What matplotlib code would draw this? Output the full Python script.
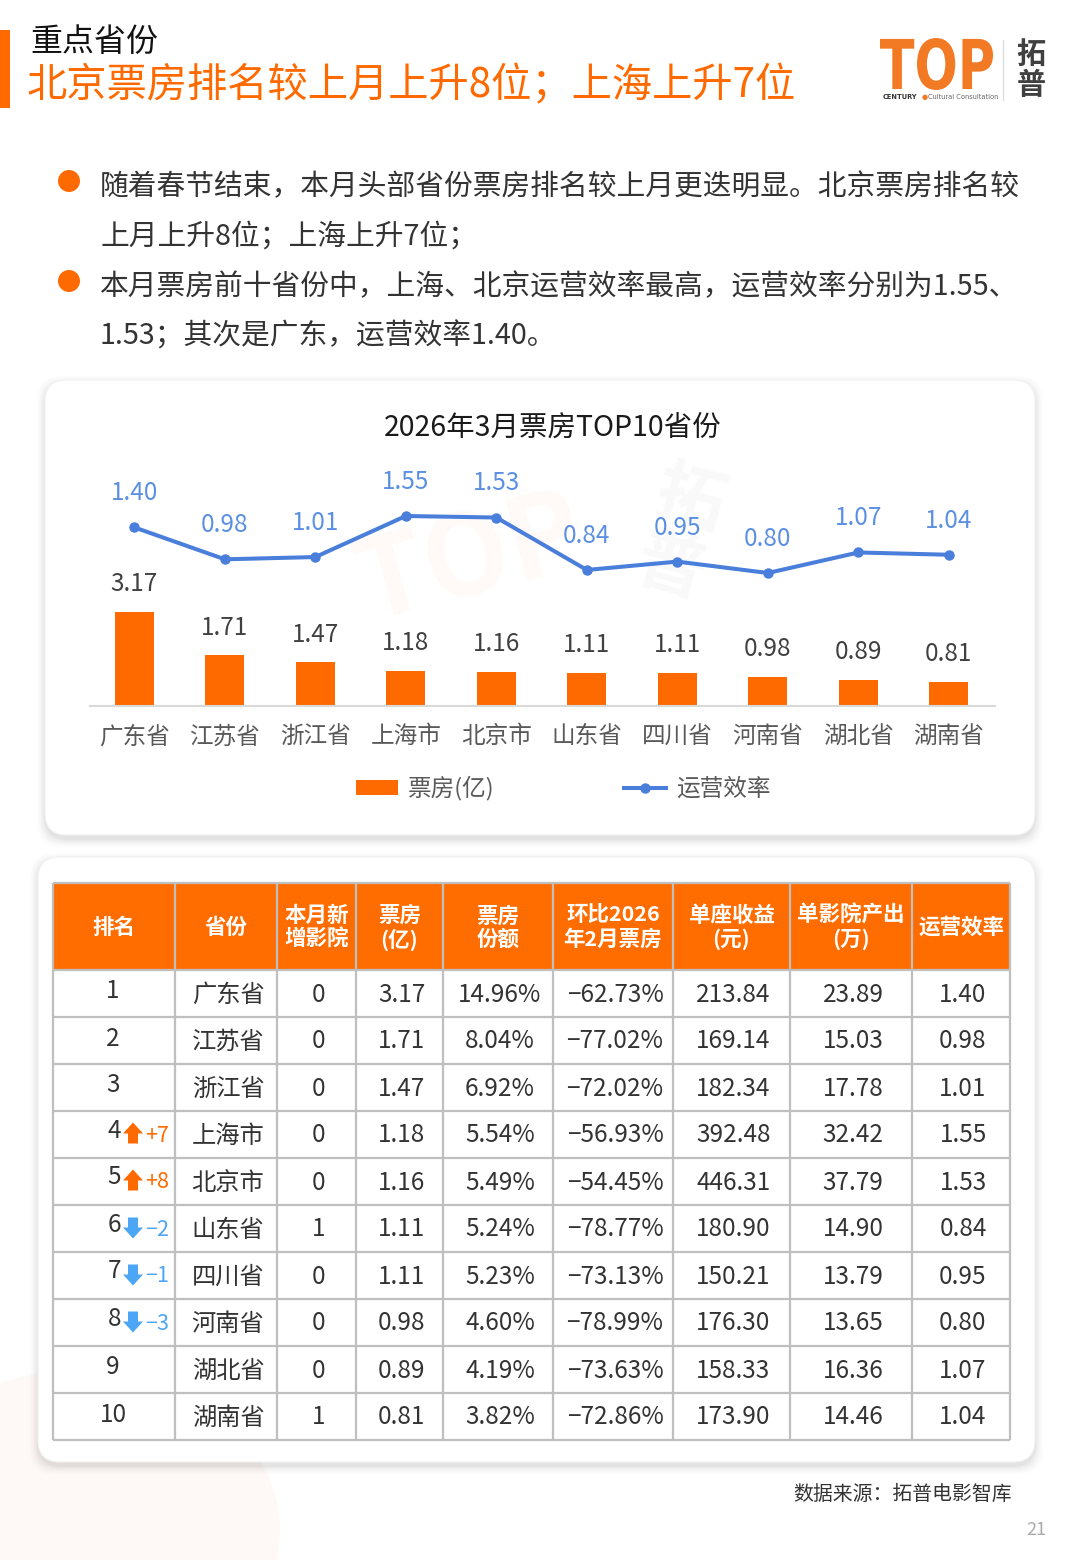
import matplotlib
matplotlib.use('Agg')
import matplotlib.pyplot as plt
from matplotlib.patches import FancyBboxPatch, Rectangle, Circle, Polygon, PathPatch, Ellipse
from matplotlib.textpath import TextPath
from matplotlib.font_manager import FontProperties
from matplotlib.transforms import Affine2D
from matplotlib.lines import Line2D

plt.rcParams['font.family'] = ['Noto Sans CJK SC', 'DejaVu Sans']

ORANGE = '#FF6A00'
BLUE = '#4A7EDB'
LBLUE = '#5B8FE2'
ARROW_BLUE = '#4DA6F5'
GRID = '#BFBFBF'
TXT = '#333333'

# ---- data ----
provinces = ['广东省', '江苏省', '浙江省', '上海市', '北京市', '山东省', '四川省', '河南省', '湖北省', '湖南省']
box_office = [3.17, 1.71, 1.47, 1.18, 1.16, 1.11, 1.11, 0.98, 0.89, 0.81]   # 亿
efficiency = [1.40, 0.98, 1.01, 1.55, 1.53, 0.84, 0.95, 0.80, 1.07, 1.04]
rank_change = [0, 0, 0, 7, 8, -2, -1, -3, 0, 0]
new_cinemas = [0, 0, 0, 0, 0, 1, 0, 0, 0, 1]
share = [14.96, 8.04, 6.92, 5.54, 5.49, 5.24, 5.23, 4.60, 4.19, 3.82]
mom = [-62.73, -77.02, -72.02, -56.93, -54.45, -78.77, -73.13, -78.99, -73.63, -72.86]
seat_revenue = [213.84, 169.14, 182.34, 392.48, 446.31, 180.90, 150.21, 176.30, 158.33, 173.90]
cinema_output = [23.89, 15.03, 17.78, 32.42, 37.79, 14.90, 13.79, 13.65, 16.36, 14.46]
headers = ['排名', '省份', '本月新\n增影院', '票房\n(亿)', '票房\n份额', '环比2026\n年2月票房',
           '单座收益\n(元)', '单影院产出\n(万)', '运营效率']
bullets = [
    ['随着春节结束，本月头部省份票房排名较上月更迭明显。北京票房排名较', '上月上升8位；上海上升7位；'],
    ['本月票房前十省份中，上海、北京运营效率最高，运营效率分别为1.55、', '1.53；其次是广东，运营效率1.40。'],
]

fig = plt.figure(figsize=(10.8, 15.6), dpi=100)
fig.patch.set_facecolor('white')

# page background, coordinates in pixels (y down)
bg = fig.add_axes([0, 0, 1, 1])
bg.set_xlim(0, 1080)
bg.set_ylim(1560, 0)
bg.axis('off')

# faint warm blob bottom left
bg.add_patch(Ellipse((80, 1530), 400, 320, fc='#FEF9F6', ec='none', zorder=0))

# header
bg.add_patch(Rectangle((0, 30), 10, 78, fc=ORANGE, ec='none'))
bg.text(30, 42, '重点省份', fontsize=23, color='#111111', va='center')
bg.text(27, 86, '北京票房排名较上月上升8位；上海上升7位', fontsize=29, color=ORANGE, va='center')

# logo
fp = FontProperties(family='DejaVu Sans', weight='bold')
tp = TextPath((0, 0), 'TOP', size=1, prop=fp)
ext = tp.get_extents()
tr = Affine2D().translate(-ext.x0, -ext.y0).scale(113 / ext.width, -52 / ext.height).translate(880, 90)
bg.add_patch(PathPatch(tr.transform_path(tp), fc='#F27A25', ec='none'))
bg.text(883, 97, 'CENTURY', fontsize=4.8, color='#333333', fontweight='bold', va='center', family='DejaVu Sans')
bg.text(922, 97, '●', fontsize=5, color='#F27A25', va='center', family='DejaVu Sans')
bg.text(928, 97, 'Cultural Consultation', fontsize=4.8, color='#666666', va='center', family='DejaVu Sans')
bg.plot([1003, 1003], [40, 100], color='#dddddd', lw=1)
bg.text(1031, 54, '拓', fontsize=21, color='#404040', fontweight='bold', ha='center', va='center')
bg.text(1031, 85, '普', fontsize=21, color='#404040', fontweight='bold', ha='center', va='center')

# bullet text
for k, lines in enumerate(bullets):
    y0 = 187 + k * 100
    bg.add_patch(Circle((69, y0 - 6), 11, fc=ORANGE, ec='none'))
    for j, line in enumerate(lines):
        bg.text(100, y0 + j * 50, line, fontsize=20.7, color=TXT, va='center')


def card(x, y, w, h):
    for i, a in enumerate([0.03, 0.025, 0.02, 0.015, 0.01, 0.007]):
        g = i * 3 + 2
        bg.add_patch(FancyBboxPatch((x - g / 2, y - g / 2 + 4), w + g, h + g,
                                    boxstyle='round,pad=0,rounding_size=24',
                                    fc='#000000', ec='none', alpha=a, zorder=1))
    bg.add_patch(FancyBboxPatch((x, y), w, h, boxstyle='round,pad=0,rounding_size=22',
                                fc='white', ec='#f2f2f2', lw=0.8, zorder=2))


card(45, 380, 990, 455)
card(38, 857, 997, 605)

# watermark in chart
bg.text(470, 560, 'TOP', fontsize=80, color=ORANGE, alpha=0.035, rotation=15,
        ha='center', va='center', fontweight='bold', zorder=3)
bg.text(680, 535, '拓\n普', fontsize=50, color='#888888', alpha=0.05, rotation=-15,
        ha='center', va='center', fontweight='bold', zorder=3, linespacing=1.0)

# chart title
bg.text(553, 428, '2026年3月票房TOP10省份', fontsize=20.5, color='#1a1a1a', ha='center', va='center', zorder=5)

# ---- combo chart ----
x = list(range(len(provinces)))
ax = fig.add_axes([90 / 1080, 1 - 706 / 1560, 905 / 1080, 266 / 1560])
ax.set_zorder(5)
ax.patch.set_alpha(0)
bars = ax.bar(x, box_office, width=0.43, color=ORANGE, zorder=2, label='票房(亿)')
ax.set_xlim(-0.49, 9.51)
ax.set_ylim(0, 266 / 29.65)
for xi, v in zip(x, box_office):
    ax.annotate(f'{v:.2f}', (xi, v), xytext=(0, 20), textcoords='offset points',
                ha='center', va='center', fontsize=17.5, color='#404040')
for s in ['top', 'right', 'left']:
    ax.spines[s].set_visible(False)
ax.spines['bottom'].set_color('#d9d9d9')
ax.spines['bottom'].set_linewidth(1.5)
ax.set_yticks([])
ax.set_xticks(x)
ax.set_xticklabels(provinces, fontsize=17, color='#595959')
ax.tick_params(axis='x', length=0, pad=14)

ax2 = ax.twinx()
ax2.set_ylim(-0.95, 2.55)
ax2.plot(x, efficiency, color=BLUE, lw=2.9, marker='o', markersize=6.5, label='运营效率', zorder=3)
for xi, v in zip(x, efficiency):
    ax2.annotate(f'{v:.2f}', (xi, v), xytext=(0, 24.5), textcoords='offset points',
                 ha='center', va='center', fontsize=17.5, color=LBLUE)
ax2.axis('off')

handles = [Rectangle((0, 0), 1, 1, fc=ORANGE, ec='none'),
           Line2D([], [], color=BLUE, lw=2.9, marker='o', markersize=6.5)]
fig.legend(handles, ['票房(亿)', '运营效率'], loc='center', ncol=2, frameon=False,
           bbox_to_anchor=(563 / 1080, 1 - 788 / 1560), fontsize=17, labelcolor='#595959',
           handlelength=1.8, handleheight=0.6, handletextpad=0.4, columnspacing=5.5)

# ---- table ----
col_edges = [53, 175, 277, 356, 443, 553, 673, 790, 912, 1010]
head_top, head_bot, row_h = 883, 970, 47
n = len(provinces)
tab_bot = head_bot + row_h * n
centers = [(a + b) / 2 for a, b in zip(col_edges[:-1], col_edges[1:])]

bg.add_patch(Rectangle((col_edges[0], head_top), col_edges[-1] - col_edges[0], head_bot - head_top,
                       fc='#FF6C00', ec='none', zorder=4))
for cx, h in zip(centers, headers):
    bg.text(cx, (head_top + head_bot) / 2 + 1, h, fontsize=15.5, color='white', fontweight='bold',
            ha='center', va='center', linespacing=1.15, zorder=6)

bg.vlines(col_edges, head_top, tab_bot, color=GRID, lw=1.6, zorder=5)
bg.hlines([head_top, head_bot] + [head_bot + row_h * (i + 1) for i in range(n)],
          col_edges[0], col_edges[-1], color=GRID, lw=1.6, zorder=5)

for i in range(n):
    yc = head_bot + row_h * (i + 0.5) + 1
    ch = rank_change[i]
    if ch == 0:
        bg.text(113, yc - 3, str(i + 1), fontsize=17.5, color=TXT, ha='center', va='center', zorder=6)
    else:
        col = ORANGE if ch > 0 else ARROW_BLUE
        bg.text(121, yc - 5, str(i + 1), fontsize=17.5, color=TXT, ha='right', va='center', zorder=6)
        ax_c, ay = 133, yc - 2
        d = -1 if ch > 0 else 1
        pts = [(ax_c, ay + d * 11), (ax_c - 10, ay + d * 0), (ax_c - 5, ay + d * 0),
               (ax_c - 5, ay - d * 10), (ax_c + 5, ay - d * 10), (ax_c + 5, ay + d * 0),
               (ax_c + 10, ay + d * 0)]
        bg.add_patch(Polygon(pts, closed=True, fc=col, ec='none', zorder=6))
        label = f'+{ch}' if ch > 0 else f'−{-ch}'
        bg.text(145, yc, label, fontsize=15.5, color=col, ha='left', va='center', zorder=6)
    vals = [provinces[i], str(new_cinemas[i]), f'{box_office[i]:.2f}', f'{share[i]:.2f}%',
            f'−{-mom[i]:.2f}%', f'{seat_revenue[i]:.2f}', f'{cinema_output[i]:.2f}', f'{efficiency[i]:.2f}']
    for cx, v in zip(centers[1:], vals):
        bg.text(cx + 2, yc, v, fontsize=17.5, color=TXT, ha='center', va='center', zorder=6)

# footer
bg.text(1012, 1494, '数据来源：拓普电影智库', fontsize=14.3, color=TXT, ha='right', va='center')
bg.text(1046, 1530, '21', fontsize=13, color='#aaaaaa', ha='right', va='center')

fig.savefig('out.png', dpi=100)
